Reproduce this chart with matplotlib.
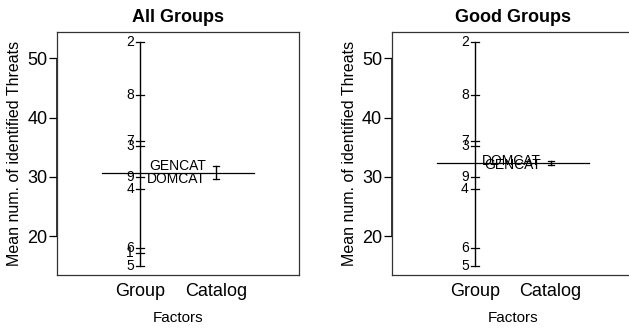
import matplotlib
matplotlib.use("Agg")
import matplotlib.pyplot as plt
from matplotlib.transforms import offset_copy

plt.rcParams['font.family'] = ['Liberation Sans', 'DejaVu Sans']

# ---- data ----
factors = ["Group", "Catalog"]

all_groups = ["1", "2", "3", "4", "5", "6", "7", "8", "9"]
all_group_means = [17.1, 52.8, 35.3, 28.0, 15.0, 18.0, 36.0, 43.9, 30.0]
all_catalogs = ["GENCAT", "DOMCAT"]
all_catalog_means = [31.9, 29.6]
all_grand_mean = 30.7

good_groups = ["2", "3", "4", "5", "6", "7", "8", "9"]
good_group_means = [52.8, 35.3, 28.0, 15.0, 18.0, 36.0, 43.9, 30.0]
good_catalogs = ["GENCAT", "DOMCAT"]
good_catalog_means = [32.0, 32.7]
good_grand_mean = 32.36

yticks = [20, 30, 40, 50]
ylim = (13.47, 54.45)

W, H = 629, 329
fig = plt.figure(figsize=(W / 100, H / 100), dpi=100)


def panel(x0_px, title, gl, gm, cl, cm, grand):
    ax = fig.add_axes([x0_px / W, (H - 275) / H, 242 / W, 243 / H])
    ax.set_xlim(-0.095, 3.095)
    ax.set_ylim(*ylim)
    for s in ax.spines.values():
        s.set_color('#333333')
        s.set_linewidth(0.9)
    # y axis line from first to last tick
    ax.plot([-0.095, -0.095], [yticks[0], yticks[-1]], color='black', lw=1.1,
            clip_on=False, solid_capstyle='butt')
    ax.set_yticks(yticks)
    ax.tick_params(axis='y', direction='out', length=6, width=0.9, pad=1,
                   labelsize=13)
    ax.set_xticks([1, 2])
    ax.set_xticklabels(factors)
    ax.tick_params(axis='x', length=0, pad=6, labelsize=13)
    ax.set_title(title, fontsize=13, fontweight='bold', pad=7)

    # grand mean line
    ax.plot([0.5, 2.5], [grand, grand], color='black', lw=0.9)

    # factor 1: groups
    ax.plot([1, 1], [min(gm), max(gm)], color='black', lw=1)
    off1 = offset_copy(ax.transData, fig=fig, x=-6, y=0, units='dots')
    for lab, v in zip(gl, gm):
        ax.plot([0.95, 1.05], [v, v], color='black', lw=0.9)
        ax.text(1, v, lab, transform=off1, ha='right', va='center', fontsize=10)

    # factor 2: catalogs
    ax.plot([2, 2], [min(cm), max(cm)], color='black', lw=1)
    off2 = offset_copy(ax.transData, fig=fig, x=-10, y=0, units='dots')
    for lab, v in zip(cl, cm):
        ax.plot([1.96, 2.04], [v, v], color='black', lw=0.9)
        ax.text(2, v, lab, transform=off2, ha='right', va='center', fontsize=10)

    cx = (x0_px + 121) / W
    fig.text(cx, 7.3 / H, "Factors", ha='center', va='baseline', fontsize=11)
    fig.text((x0_px - 42) / W, (H - 153.5) / H,
             "Mean num. of identified Threats", rotation=90,
             ha='center', va='center', fontsize=11.5)
    return ax


panel(57, "All Groups", all_groups, all_group_means, all_catalogs,
      all_catalog_means, all_grand_mean)
panel(391.7, "Good Groups", good_groups, good_group_means, good_catalogs,
      good_catalog_means, good_grand_mean)

fig.savefig("out.png", dpi=100)
